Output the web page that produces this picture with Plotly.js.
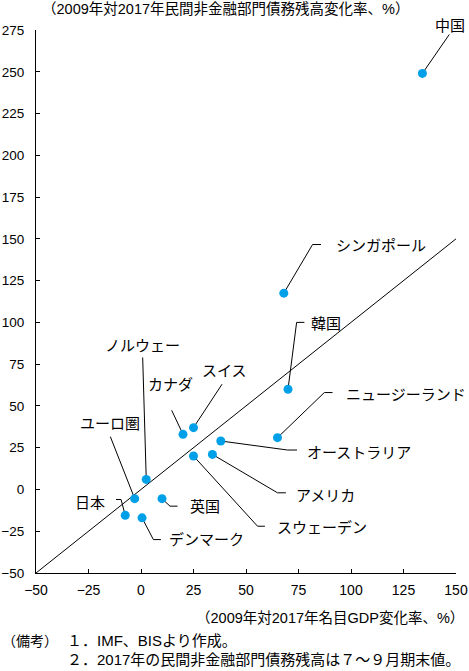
<!DOCTYPE html>
<html>
<head>
<meta charset="utf-8">
<script src="https://cdn.plot.ly/plotly-3.0.1.min.js"></script>
<style>
  body { margin: 0; background: #fff; }
  #graph { width: 469px; height: 671px; }
</style>
</head>
<body>
<div id="graph"></div>
<script>
// Data
const countries = ['中国', 'シンガポール', '韓国', 'ノルウェー', 'カナダ', 'スイス', 'ニュージーランド',
    'オーストラリア', 'アメリカ', 'スウェーデン', 'ユーロ圏', '日本', 'デンマーク', '英国'];
const gdpChange = [134, 68, 70, 2.5, 20, 25, 65, 38, 34, 25, -3, -7.5, 0.5, 10];
const debtChange = [249, 117.5, 60, 6, 33, 37, 31, 29, 21, 20, -5.5, -15.5, -17, -5.5];

const refLineX = [-50, 150];
const refLineY = [-50, 150];

const xTicks = [-50, -25, 0, 25, 50, 75, 100, 125, 150];
const yTicks = [-50, -25, 0, 25, 50, 75, 100, 125, 150, 175, 200, 225, 250, 275];

// Label placement (leader line bend points and text spot), one per country
const labelSpots = [
    {bend: [[146.8, 272.3]], text: [147.3, 274.9], anchor: 'center', shift: 5},
    {bend: [[81.7, 146.6], [85.7, 146.6]], text: [92, 146], anchor: 'left'},
    {bend: [[74.1, 100], [77.8, 100]], text: [80.1, 99.5], anchor: 'left'},
    {bend: [[0.8, 79]], text: [0.6, 86], anchor: 'center'},
    {bend: [[14.6, 47.4]], text: [14.2, 63], anchor: 'center'},
    {bend: [[38.6, 63]], text: [39.7, 71], anchor: 'center'},
    {bend: [[87.3, 58], [91.2, 58]], text: [96.8, 57], anchor: 'left'},
    {bend: [[69.8, 23.6], [74.3, 23.6]], text: [78.2, 22], anchor: 'left'},
    {bend: [[65, -2], [69, -2]], text: [73, -3.6], anchor: 'left'},
    {bend: [[55.5, -22], [59, -22]], text: [64, -22.8], anchor: 'left'},
    {bend: [[-14.6, 31.6]], text: [-14.6, 39.6], anchor: 'center'},
    {bend: [[-9.5, -6], [-11.9, -6]], text: [-16, -7.8], anchor: 'right'},
    {bend: [[5.9, -30], [9.5, -30]], text: [12.5, -30], anchor: 'left'},
    {bend: [[13.8, -10], [17.4, -10]], text: [22.5, -10.2], anchor: 'left'}
];

const FONT = 'Liberation Sans, Noto Sans CJK JP, sans-serif';
const TICKFONT = 'Liberation Sans, sans-serif';

const shapes = [];
const annotations = [];

countries.forEach(function(name, i) {
    const spot = labelSpots[i];
    let path = 'M' + gdpChange[i] + ',' + debtChange[i];
    spot.bend.forEach(function(p) {
        path += ' L' + p[0] + ',' + p[1];
    });
    shapes.push({
        type: 'path', xref: 'x', yref: 'y', path: path,
        line: {color: '#000', width: 1}, layer: 'below'
    });
    annotations.push({
        xref: 'x', yref: 'y', x: spot.text[0], y: spot.text[1],
        yshift: spot.shift || 0,
        text: name, showarrow: false,
        xanchor: spot.anchor, yanchor: 'middle',
        font: {family: FONT, size: 15, color: '#000'}
    });
});

// Axis titles and notes
annotations.push({
    xref: 'paper', yref: 'paper', x: 0.0095, y: 1.0387,
    xanchor: 'left', yanchor: 'middle', showarrow: false,
    text: '（2009年対2017年民間非金融部門債務残高変化率、%）',
    font: {family: FONT, size: 14.5, color: '#000'}
});
annotations.push({
    xref: 'paper', yref: 'paper', x: 1.014, y: -0.083, xshift: 4,
    xanchor: 'right', yanchor: 'middle', showarrow: false,
    text: '（2009年対2017年名目GDP変化率、%）',
    font: {family: FONT, size: 14.5, color: '#000'}
});
annotations.push({
    xref: 'paper', yref: 'paper', x: -0.086, y: -0.125,
    xanchor: 'left', yanchor: 'middle', showarrow: false,
    text: '（備考）',
    font: {family: FONT, size: 14, color: '#000'}
});
annotations.push({
    xref: 'paper', yref: 'paper', x: 0.069, y: -0.125,
    xanchor: 'left', yanchor: 'middle', showarrow: false,
    text: '１．IMF、BISより作成。',
    font: {family: FONT, size: 15, color: '#000'}
});
annotations.push({
    xref: 'paper', yref: 'paper', x: 0.069, y: -0.160,
    xanchor: 'left', yanchor: 'middle', showarrow: false,
    text: '２．2017年の民間非金融部門債務残高は７～９月期末値。',
    font: {family: FONT, size: 15, color: '#000'}
});

const refLine = {
    x: refLineX, y: refLineY,
    mode: 'lines', type: 'scatter',
    line: {color: '#000', width: 1},
    hoverinfo: 'skip'
};

const points = {
    x: gdpChange, y: debtChange, text: countries,
    mode: 'markers', type: 'scatter',
    marker: {color: '#00a0e9', size: 9},
    cliponaxis: false
};

const layout = {
    width: 469,
    height: 671,
    paper_bgcolor: '#fff',
    plot_bgcolor: '#fff',
    showlegend: false,
    margin: {l: 36, r: 13, t: 30, b: 98},
    font: {family: FONT, size: 14, color: '#000'},
    xaxis: {
        range: [-50, 150],
        tickvals: xTicks,
        ticks: 'inside', ticklen: 4, tickcolor: '#000',
        showline: true, linecolor: '#000', linewidth: 1,
        showgrid: false, zeroline: false,
        ticklabelstandoff: 4,
        tickfont: {family: TICKFONT, size: 14, color: '#000'}
    },
    yaxis: {
        range: [-50, 275],
        tickvals: yTicks,
        ticks: 'inside', ticklen: 4, tickcolor: '#000',
        showline: true, linecolor: '#000', linewidth: 1,
        showgrid: false, zeroline: false,
        ticklabelstandoff: 8,
        tickfont: {family: TICKFONT, size: 13.5, color: '#000'}
    },
    shapes: shapes,
    annotations: annotations
};

Plotly.newPlot('graph', [refLine, points], layout, {staticPlot: true});
</script>
</body>
</html>
